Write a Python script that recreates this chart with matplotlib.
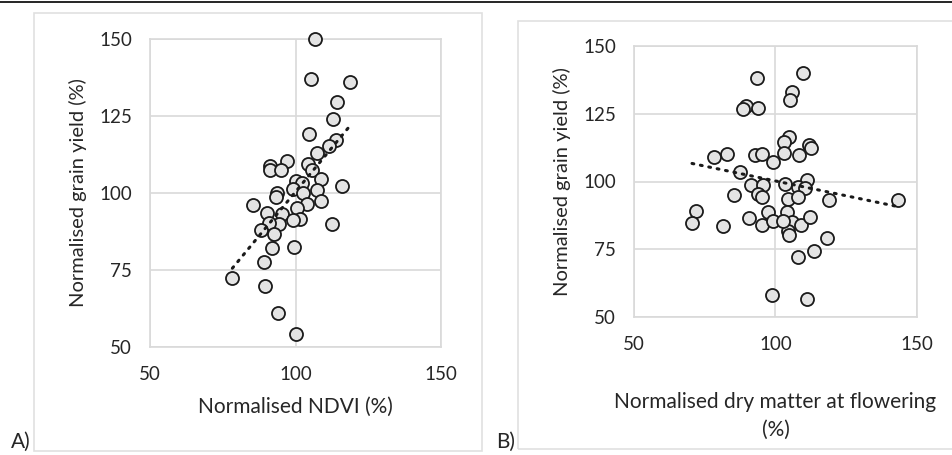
import numpy as np
import matplotlib.pyplot as plt
from matplotlib.patches import Rectangle
from matplotlib.lines import Line2D

# panel A: normalised NDVI vs normalised grain yield
ndvi = [106.8, 105.2, 118.6, 114.2, 113.0, 104.7, 113.8, 111.5, 107.3, 97.1,
        91.2, 91.3, 95.1, 104.4, 105.5, 108.6, 100.0, 102.4, 99.0, 102.5,
        107.5, 116.0, 93.7, 93.3, 104.1, 108.6, 85.5, 100.4, 101.5, 95.5,
        90.3, 99.0, 94.2, 90.9, 112.5, 88.0, 92.6, 91.8, 99.6, 89.2,
        78.3, 89.5, 94.0, 100.3]
yield_a = [150.0, 136.9, 136.0, 129.6, 124.1, 119.3, 117.2, 115.3, 113.1, 110.5,
           108.9, 107.5, 107.4, 109.3, 107.5, 104.7, 104.0, 103.1, 101.2, 100.1,
           101.0, 102.4, 99.9, 98.6, 96.5, 97.4, 96.1, 95.2, 91.7, 93.3,
           93.4, 91.1, 90.0, 90.4, 90.0, 87.9, 86.8, 82.2, 82.6, 77.7,
           72.4, 69.7, 61.0, 54.1]
# linear trend (slope, intercept)
trend_a = [1.144, -14.0]

# panel B: normalised dry matter at flowering vs normalised grain yield
dry_matter = [109.7, 93.3, 105.8, 105.0, 89.6, 88.6, 93.9, 104.7, 102.9, 111.8,
              112.5, 82.9, 78.3, 92.6, 95.3, 102.9, 108.3, 99.2, 87.4, 111.3,
              91.5, 95.6, 103.3, 108.0, 110.6, 93.9, 95.4, 85.3, 104.5, 108.0,
              119.0, 143.3, 71.9, 70.5, 81.6, 90.7, 97.2, 95.4, 99.2, 103.9,
              105.7, 109.0, 112.1, 104.5, 104.7, 118.2, 113.7, 108.0, 98.6, 111.3,
              102.7]
yield_b = [139.9, 138.3, 133.0, 129.9, 127.7, 126.7, 127.1, 116.6, 114.4, 113.4,
           112.4, 110.3, 108.9, 109.7, 110.2, 110.5, 109.6, 107.1, 103.6, 100.7,
           98.8, 98.6, 99.0, 97.8, 97.5, 95.4, 94.4, 95.1, 93.4, 94.4,
           93.2, 93.0, 89.1, 84.8, 83.7, 86.6, 88.8, 84.0, 85.3, 88.6,
           85.1, 84.0, 87.0, 81.8, 80.1, 79.3, 74.5, 72.1, 58.1, 56.5,
           85.3]
trend_b = [-0.219, 122.1]

ticks = [50, 100, 150]
y_ticks = [50, 75, 100, 125, 150]

plt.rcParams['font.family'] = ['Lato', 'DejaVu Sans']
TEXT = '#262626'
GRID = '#d9d9d9'

fig = plt.figure(figsize=(9.53, 4.55), dpi=100)
W, H = 953, 455


def px_rect(x0, y0, x1, y1):
    return [x0 / W, 1 - y1 / H, (x1 - x0) / W, (y1 - y0) / H]


def panel(rect, x, y, trend, xlabel, xlabelpad):
    ax = fig.add_axes(rect)
    ax.set_xlim(50, 150)
    ax.set_ylim(50, 150)
    ax.set_xticks(ticks)
    ax.set_yticks(y_ticks)
    ax.grid(True, color=GRID, linewidth=1.2)
    ax.set_axisbelow(True)
    for s in ax.spines.values():
        s.set_color(GRID)
        s.set_linewidth(1.2)
    ax.tick_params(length=0, labelsize=13.5, colors=TEXT)
    ax.tick_params(axis='x', pad=14)
    ax.tick_params(axis='y', pad=13)
    ax.scatter(x, y, s=88, facecolor='#e4e4e4', edgecolor='#1a1a1a',
               linewidth=1.3, zorder=3, clip_on=False)
    xs = np.array([min(x), max(x)])
    ax.plot(xs, trend[0] * xs + trend[1], color='#1a1a1a', linewidth=2.2,
            linestyle=(0, (0.6, 2.2)), dash_capstyle='round', zorder=4)
    ax.set_ylabel('Normalised grain yield (%)', fontsize=14.5, color=TEXT, labelpad=9)
    ax.set_xlabel(xlabel, fontsize=15, color=TEXT, labelpad=xlabelpad, linespacing=1.5)
    return ax


panel(px_rect(150, 39, 441, 347), ndvi, yield_a, trend_a, 'Normalised NDVI (%)', 10)
panel(px_rect(634, 46, 917, 317), dry_matter, yield_b, trend_b,
      'Normalised dry matter at flowering\n(%)', 28)

# chart borders and top rule
fig.add_artist(Rectangle((34 / W, 1 - 451 / H), (482 - 34) / W, (451 - 13) / H,
                         transform=fig.transFigure, fill=False, edgecolor='#e0e0e0', lw=1.2))
fig.add_artist(Rectangle((518 / W, 1 - 449 / H), (980 - 518) / W, (449 - 21) / H,
                         transform=fig.transFigure, fill=False, edgecolor='#e0e0e0', lw=1.2))
fig.add_artist(Line2D([0, 1], [1 - 2 / H, 1 - 2 / H], transform=fig.transFigure,
                      color='black', lw=1.2))

fig.text(11 / W, 1 - 442 / H, 'A)', fontsize=15, color=TEXT, va='center')
fig.text(496 / W, 1 - 442 / H, 'B)', fontsize=15, color=TEXT, va='center')

fig.savefig('out.png', dpi=100)
